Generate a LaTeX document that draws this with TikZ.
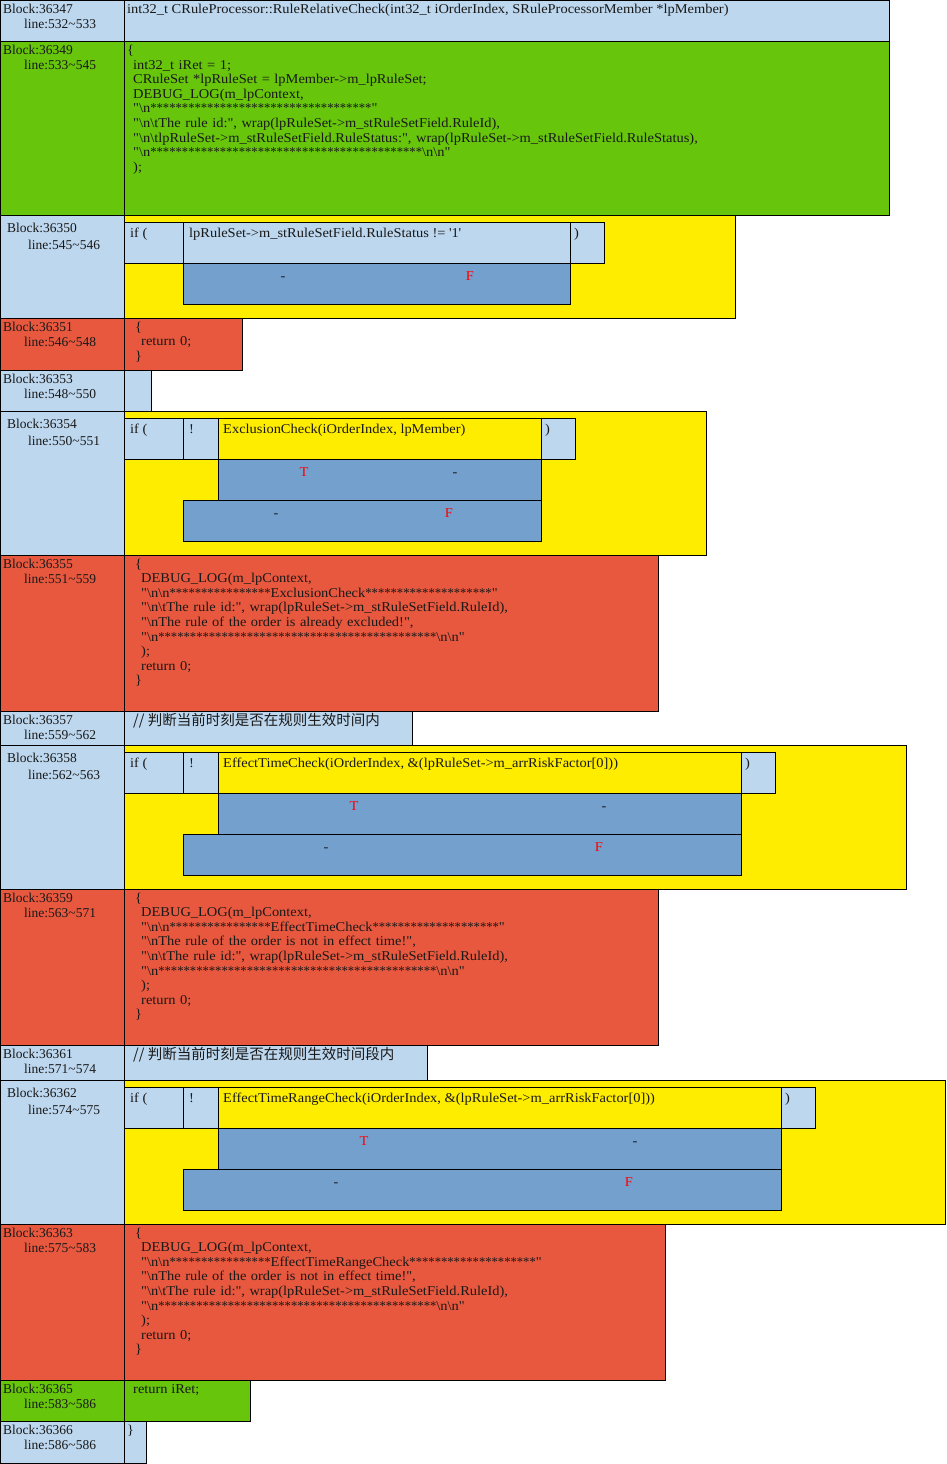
\documentclass[tikz,border=0pt]{standalone}
\usepackage{graphicx}
\usepackage{fontspec}
\setmainfont{Liberation Serif}[FakeStretch=1.07, Ligatures=TeXOff]
\newfontfamily\labelfont{Liberation Serif}[Ligatures=TeXOff]
\newfontfamily\cjkfont{Noto Sans CJK SC}
\definecolor{cellblue}{RGB}{189,215,238}
\definecolor{cellgreen}{RGB}{103,197,12}
\definecolor{cellyellow}{RGB}{255,237,0}
\definecolor{cellred}{RGB}{232,88,62}
\definecolor{celldark}{RGB}{116,160,206}
\newcommand\BSL{\textbackslash}
\newcommand\ind{\hspace*{6pt}}
% runs of asterisks are set a little narrower than the font's own
\newcommand\stars[1]{\scalebox{0.875}[1]{#1}}
\tikzset{
  cellframe/.style={draw=black, line width=0.9pt},
  bluecell/.style={cellframe, fill=cellblue},
  greencell/.style={cellframe, fill=cellgreen},
  yellowcell/.style={cellframe, fill=cellyellow},
  redcell/.style={cellframe, fill=cellred},
  darkcell/.style={cellframe, fill=celldark},
  lbl/.style={anchor=base west, inner sep=0pt, font=\fontsize{13.5}{14.6}\selectfont, text=black!90},
  blocklbl/.style={lbl, font=\labelfont\fontsize{13.5}{14.6}\selectfont},
  codetext/.style={lbl, align=left, text width=800pt},
  tflabel/.style={anchor=base, inner sep=0pt, font=\fontsize{13.5}{14.6}\selectfont, text=red},
  nilmark/.style={anchor=base, inner sep=0pt, font=\fontsize{13.5}{14.6}\selectfont, text=black!90},
  cjktext/.style={lbl, font=\cjkfont\fontsize{14.5}{16}\selectfont}
}
\begin{document}
\begin{tikzpicture}[x=1pt,y=-1pt]
\useasboundingbox (0,0) rectangle (946,1464);

% ---------- Block 36347 ----------
\draw[bluecell] (0.5,0.5) rectangle (124,41);
\draw[bluecell] (124,0.5) rectangle (889,41);
\node[blocklbl] (b47) at (3,13.5) {Block:36347};
\node[blocklbl] (l47) at (24,28.5) {line:532\textasciitilde533};
\node[lbl] (c47) at (127,13.5) {int32\_t CRuleProcessor::RuleRelativeCheck(int32\_t iOrderIndex, SRuleProcessorMember *lpMember)};

% ---------- Block 36349 ----------
\draw[greencell] (0.5,41) rectangle (124,215);
\draw[greencell] (124,41) rectangle (889,215);
\node[blocklbl] (b49) at (3,54.5) {Block:36349};
\node[blocklbl] (l49) at (24,69.5) {line:533\textasciitilde545};
\node[codetext] (c49) at (127,54.5) {\{\\
\ind int32\_t iRet = 1;\\
\ind CRuleSet *lpRuleSet = lpMember->m\_lpRuleSet;\\
\ind DEBUG\_LOG(m\_lpContext,\\
\ind "\BSL n\stars{***********************************}"\\
\ind "\BSL n\BSL tThe rule id:", wrap(lpRuleSet->m\_stRuleSetField.RuleId),\\
\ind "\BSL n\BSL tlpRuleSet->m\_stRuleSetField.RuleStatus:", wrap(lpRuleSet->m\_stRuleSetField.RuleStatus),\\
\ind "\BSL n\stars{*******************************************}\BSL n\BSL n"\\
\ind );};

% ---------- Block 36350 ----------
\draw[bluecell] (0.5,215) rectangle (124,318);
\draw[yellowcell] (124,215) rectangle (735,318);
\draw[bluecell] (124,222) rectangle (183,263);
\draw[bluecell] (183,222) rectangle (570,263);
\draw[bluecell] (570,222) rectangle (604,263);
\draw[darkcell] (183,263) rectangle (570,304);
\node[blocklbl] (b50) at (7,232.5) {Block:36350};
\node[blocklbl] (l50) at (28,249) {line:545\textasciitilde546};
\node[lbl] (if50) at (130,237) {if (};
\node[lbl] (q50) at (189,237) {lpRuleSet->m\_stRuleSetField.RuleStatus != \textquotesingle1\textquotesingle};
\node[lbl] (p50) at (574,237) {)};
\node[nilmark] (t50) at (283,280) {-};
\node[tflabel] (f50) at (470,280) {F};

% ---------- Block 36351 ----------
\draw[redcell] (0.5,318) rectangle (124,370);
\draw[redcell] (124,318) rectangle (242,370);
\node[blocklbl] (b51) at (3,331.5) {Block:36351};
\node[blocklbl] (l51) at (24,346.5) {line:546\textasciitilde548};
\node[codetext] (c51) at (135,331) {\{\\
\ind return 0;\\
\}};

% ---------- Block 36353 ----------
\draw[bluecell] (0.5,370) rectangle (124,411);
\draw[bluecell] (124,370) rectangle (151,411);
\node[blocklbl] (b53) at (3,383.5) {Block:36353};
\node[blocklbl] (l53) at (24,398.5) {line:548\textasciitilde550};

% ---------- Block 36354 ----------
\draw[bluecell] (0.5,411) rectangle (124,555);
\draw[yellowcell] (124,411) rectangle (706,555);
\draw[bluecell] (124,418) rectangle (183,459);
\draw[bluecell] (183,418) rectangle (218,459);
\draw[yellowcell] (218,418) rectangle (541,459);
\draw[bluecell] (541,418) rectangle (575,459);
\draw[darkcell] (218,459) rectangle (541,500);
\draw[darkcell] (183,500) rectangle (541,541);
\node[blocklbl] (b54) at (7,428.5) {Block:36354};
\node[blocklbl] (l54) at (28,445) {line:550\textasciitilde551};
\node[lbl] (if54) at (130,433) {if (};
\node[lbl] (n54) at (189,433) {!};
\node[lbl] (q54) at (223,433) {ExclusionCheck(iOrderIndex, lpMember)};
\node[lbl] (p54) at (545,433) {)};
\node[tflabel] (t54) at (304,476) {T};
\node[nilmark] (tn54) at (455,476) {-};
\node[nilmark] (fn54) at (276,517) {-};
\node[tflabel] (f54) at (449,517) {F};

% ---------- Block 36355 ----------
\draw[redcell] (0.5,555) rectangle (124,711);
\draw[redcell] (124,555) rectangle (658,711);
\node[blocklbl] (b55) at (3,568.5) {Block:36355};
\node[blocklbl] (l55) at (24,583.5) {line:551\textasciitilde559};
\node[codetext] (c55) at (135,568) {\{\\
\ind DEBUG\_LOG(m\_lpContext,\\
\ind "\BSL n\BSL n\stars{****************}ExclusionCheck\stars{********************}"\\
\ind "\BSL n\BSL tThe rule id:", wrap(lpRuleSet->m\_stRuleSetField.RuleId),\\
\ind "\BSL nThe rule of the order is already excluded!",\\
\ind "\BSL n\stars{********************************************}\BSL n\BSL n"\\
\ind );\\
\ind return 0;\\
\}};

% ---------- Block 36357 ----------
\draw[bluecell] (0.5,711) rectangle (124,745);
\draw[bluecell] (124,711) rectangle (412,745);
\node[blocklbl] (b57) at (3,724.5) {Block:36357};
\node[blocklbl] (l57) at (24,739.5) {line:559\textasciitilde562};
\node[cjktext] (c57) at (133,725.5) {// 判断当前时刻是否在规则生效时间内};

% ---------- Block 36358 ----------
\draw[bluecell] (0.5,745) rectangle (124,889);
\draw[yellowcell] (124,745) rectangle (906,889);
\draw[bluecell] (124,752) rectangle (183,793);
\draw[bluecell] (183,752) rectangle (218,793);
\draw[yellowcell] (218,752) rectangle (741,793);
\draw[bluecell] (741,752) rectangle (775,793);
\draw[darkcell] (218,793) rectangle (741,834);
\draw[darkcell] (183,834) rectangle (741,875);
\node[blocklbl] (b58) at (7,762.5) {Block:36358};
\node[blocklbl] (l58) at (28,779) {line:562\textasciitilde563};
\node[lbl] (if58) at (130,767) {if (};
\node[lbl] (n58) at (189,767) {!};
\node[lbl] (q58) at (223,767) {EffectTimeCheck(iOrderIndex, \&(lpRuleSet->m\_arrRiskFactor[0]))};
\node[lbl] (p58) at (745,767) {)};
\node[tflabel] (t58) at (354,810) {T};
\node[nilmark] (tn58) at (604,810) {-};
\node[nilmark] (fn58) at (326,851) {-};
\node[tflabel] (f58) at (599,851) {F};

% ---------- Block 36359 ----------
\draw[redcell] (0.5,889) rectangle (124,1045);
\draw[redcell] (124,889) rectangle (658,1045);
\node[blocklbl] (b59) at (3,902.5) {Block:36359};
\node[blocklbl] (l59) at (24,917.5) {line:563\textasciitilde571};
\node[codetext] (c59) at (135,902) {\{\\
\ind DEBUG\_LOG(m\_lpContext,\\
\ind "\BSL n\BSL n\stars{****************}EffectTimeCheck\stars{********************}"\\
\ind "\BSL nThe rule of the order is not in effect time!",\\
\ind "\BSL n\BSL tThe rule id:", wrap(lpRuleSet->m\_stRuleSetField.RuleId),\\
\ind "\BSL n\stars{********************************************}\BSL n\BSL n"\\
\ind );\\
\ind return 0;\\
\}};

% ---------- Block 36361 ----------
\draw[bluecell] (0.5,1045) rectangle (124,1080);
\draw[bluecell] (124,1045) rectangle (427,1080);
\node[blocklbl] (b61) at (3,1058.5) {Block:36361};
\node[blocklbl] (l61) at (24,1073.5) {line:571\textasciitilde574};
\node[cjktext] (c61) at (133,1059.5) {// 判断当前时刻是否在规则生效时间段内};

% ---------- Block 36362 ----------
\draw[bluecell] (0.5,1080) rectangle (124,1224);
\draw[yellowcell] (124,1080) rectangle (945.5,1224);
\draw[bluecell] (124,1087) rectangle (183,1128);
\draw[bluecell] (183,1087) rectangle (218,1128);
\draw[yellowcell] (218,1087) rectangle (781,1128);
\draw[bluecell] (781,1087) rectangle (815,1128);
\draw[darkcell] (218,1128) rectangle (781,1169);
\draw[darkcell] (183,1169) rectangle (781,1210);
\node[blocklbl] (b62) at (7,1097.5) {Block:36362};
\node[blocklbl] (l62) at (28,1114) {line:574\textasciitilde575};
\node[lbl] (if62) at (130,1102) {if (};
\node[lbl] (n62) at (189,1102) {!};
\node[lbl] (q62) at (223,1102) {EffectTimeRangeCheck(iOrderIndex, \&(lpRuleSet->m\_arrRiskFactor[0]))};
\node[lbl] (p62) at (785,1102) {)};
\node[tflabel] (t62) at (364,1145) {T};
\node[nilmark] (tn62) at (635,1145) {-};
\node[nilmark] (fn62) at (336,1186) {-};
\node[tflabel] (f62) at (629,1186) {F};

% ---------- Block 36363 ----------
\draw[redcell] (0.5,1224) rectangle (124,1380);
\draw[redcell] (124,1224) rectangle (665,1380);
\node[blocklbl] (b63) at (3,1237.5) {Block:36363};
\node[blocklbl] (l63) at (24,1252.5) {line:575\textasciitilde583};
\node[codetext] (c63) at (135,1237) {\{\\
\ind DEBUG\_LOG(m\_lpContext,\\
\ind "\BSL n\BSL n\stars{****************}EffectTimeRangeCheck\stars{********************}"\\
\ind "\BSL nThe rule of the order is not in effect time!",\\
\ind "\BSL n\BSL tThe rule id:", wrap(lpRuleSet->m\_stRuleSetField.RuleId),\\
\ind "\BSL n\stars{********************************************}\BSL n\BSL n"\\
\ind );\\
\ind return 0;\\
\}};

% ---------- Block 36365 ----------
\draw[greencell] (0.5,1380) rectangle (124,1421);
\draw[greencell] (124,1380) rectangle (250,1421);
\node[blocklbl] (b65) at (3,1393.5) {Block:36365};
\node[blocklbl] (l65) at (24,1408.5) {line:583\textasciitilde586};
\node[lbl] (c65) at (133,1393.5) {return iRet;};

% ---------- Block 36366 ----------
\draw[bluecell] (0.5,1421) rectangle (124,1463.5);
\draw[bluecell] (124,1421) rectangle (146,1463.5);
\node[blocklbl] (b66) at (3,1434.5) {Block:36366};
\node[blocklbl] (l66) at (24,1449.5) {line:586\textasciitilde586};
\node[lbl] (c66) at (127,1434.5) {\}};
\end{tikzpicture}
\end{document}
